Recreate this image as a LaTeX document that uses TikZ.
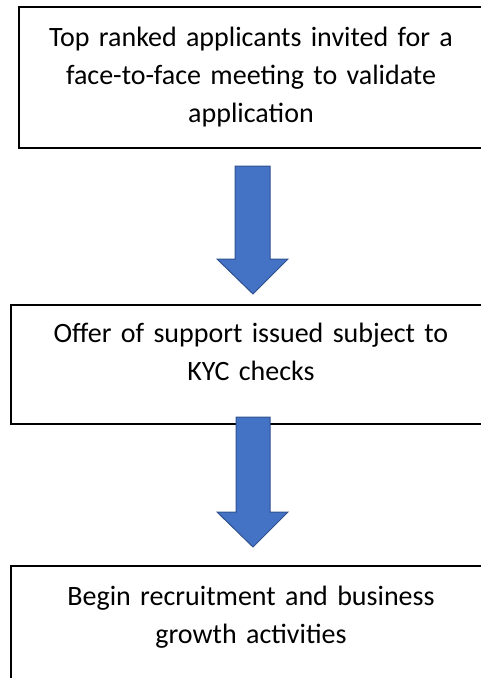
\documentclass[tikz,border=0pt]{standalone}
\usepackage{fontspec}
\setmainfont{Carlito}
\usepackage{tikz}
\usetikzlibrary{calc,positioning}
\definecolor{ArrowBlue}{RGB}{68,114,196}
\definecolor{ArrowEdge}{RGB}{47,82,143}

\tikzset{
  stagebox/.style={draw=black, line width=1.6pt},
  stagetext/.style={anchor=north, inner sep=0pt, text width=470pt, align=center,
    font=\fontsize{28}{38}\selectfont},
  blockarrow/.style={fill=ArrowBlue, draw=ArrowEdge, line width=1pt, line join=miter}
}

\begin{document}
\begin{tikzpicture}[x=1pt, y=-1pt]
\useasboundingbox (0,0) rectangle (480,678);
% Stage 1
\draw[stagebox] (19,7) rectangle (495,148);
\node[stagetext] (meeting) at (251,27) {Top ranked applicants invited for a\\ face-to-face meeting to validate\\ application};
% Arrow 1
\coordinate (a1) at (253,166);
\draw[blockarrow] ($(a1)+(-18,0)$) -- ($(a1)+(17,0)$) -- ($(a1)+(17,93)$) -- ($(a1)+(35,93)$)
  -- ($(a1)+(0,128)$) -- ($(a1)+(-36,93)$) -- ($(a1)+(-18,93)$) -- cycle;
% Stage 2
\draw[stagebox] (11,305) rectangle (495,424);
\node[stagetext] (offer) at (251,323) {Offer of support issued subject to\\ KYC checks};
% Arrow 2
\coordinate (a2) at (253,417);
\draw[blockarrow] ($(a2)+(-17,0)$) -- ($(a2)+(17,0)$) -- ($(a2)+(17,95)$) -- ($(a2)+(35,95)$)
  -- ($(a2)+(0,130)$) -- ($(a2)+(-36,95)$) -- ($(a2)+(-17,95)$) -- cycle;
% Stage 3
\draw[stagebox] (11,566) rectangle (495,700);
\node[stagetext] (growth) at (251,586) {Begin recruitment and business\\ growth activities};
\end{tikzpicture}
\end{document}
